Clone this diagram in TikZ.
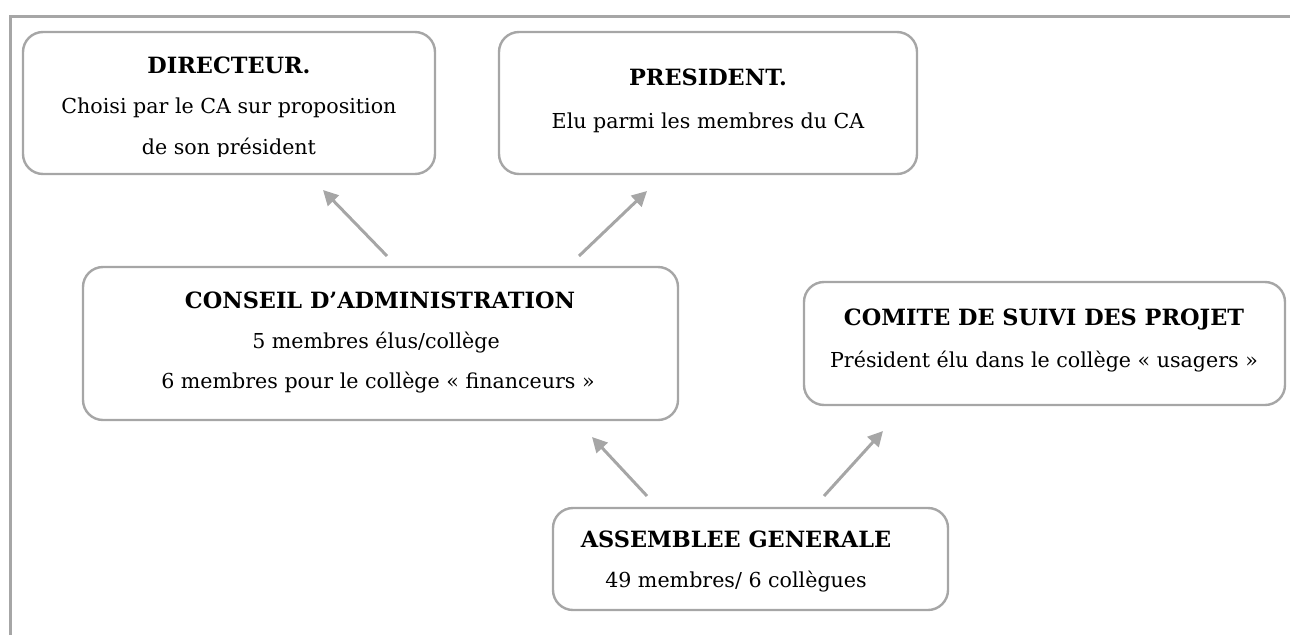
\documentclass[tikz,border=0pt]{standalone}
\usepackage{fontspec}
\setmainfont{DejaVu Serif}
\usetikzlibrary{arrows.meta}
\definecolor{lg}{HTML}{A6A6A6}
\begin{document}
\begin{tikzpicture}[x=1pt,y=-1pt,
  box/.style={draw=lg, line width=2.4pt, rounded corners=20pt, inner sep=0pt},
  ttl/.style={font=\fontsize{22.4}{26}\selectfont\bfseries, anchor=base, inner sep=0pt},
  txt/.style={font=\fontsize{20.6}{24}\selectfont, anchor=base, inner sep=0pt},
  arr/.style={draw=lg, line width=3pt, -{Triangle[length=15pt,width=15pt]}},
  frame/.style={draw=lg, line width=3pt}]
\useasboundingbox (0,0) rectangle (1290,635);
% outer frame
\coordinate (fa) at (10,635);
\coordinate (fb) at (10,16);
\coordinate (fc) at (1290,16);
\draw[frame] (fa) -- (fb) -- (fc);
% boxes
\node[box, minimum width=412pt, minimum height=142pt] (dir) at (229,103) {};
\node[box, minimum width=418pt, minimum height=142pt] (pre) at (708,103) {};
\node[box, minimum width=595pt, minimum height=153pt] (con) at (380.5,343.5) {};
\node[box, minimum width=481pt, minimum height=123pt] (com) at (1044.5,343.5) {};
\node[box, minimum width=395pt, minimum height=102pt] (ass) at (750.5,559) {};
% texts
\node[ttl] (dir1) at (229,73) {DIRECTEUR.};
\node[txt] (dir2) at (229,113) {Choisi par le CA sur proposition};
\begin{scope}
\clip (30,125) rectangle (430,156);
\node[txt] (dir3) at (229,154) {de son président};
\end{scope}
\node[ttl] (pre1) at (708,85) {PRESIDENT.};
\node[txt] (pre2) at (708,128) {Elu parmi les membres du CA};
\node[ttl] (con1) at (380,308) {CONSEIL D’ADMINISTRATION};
\node[txt] (con2) at (376,348) {5 membres élus/collège};
\node[txt] (con3) at (378,388) {6 membres pour le collège « financeurs »};
\node[ttl] (com1) at (1044,325) {COMITE DE SUIVI DES PROJET};
\node[txt] (com2) at (1044,367) {Président élu dans le collège « usagers »};
\node[ttl] (ass1) at (736,547) {ASSEMBLEE GENERALE};
\node[txt] (ass2) at (736,587) {49 membres/ 6 collègues};
% arrows
\coordinate (a1s) at (387,256); \coordinate (a1e) at (323,190);
\coordinate (a2s) at (579,256); \coordinate (a2e) at (647,191);
\coordinate (a3s) at (647,496); \coordinate (a3e) at (592,437);
\coordinate (a4s) at (824,496); \coordinate (a4e) at (883,431);
\draw[arr] (a1s) -- (a1e);
\draw[arr] (a2s) -- (a2e);
\draw[arr] (a3s) -- (a3e);
\draw[arr] (a4s) -- (a4e);
\end{tikzpicture}
\end{document}
